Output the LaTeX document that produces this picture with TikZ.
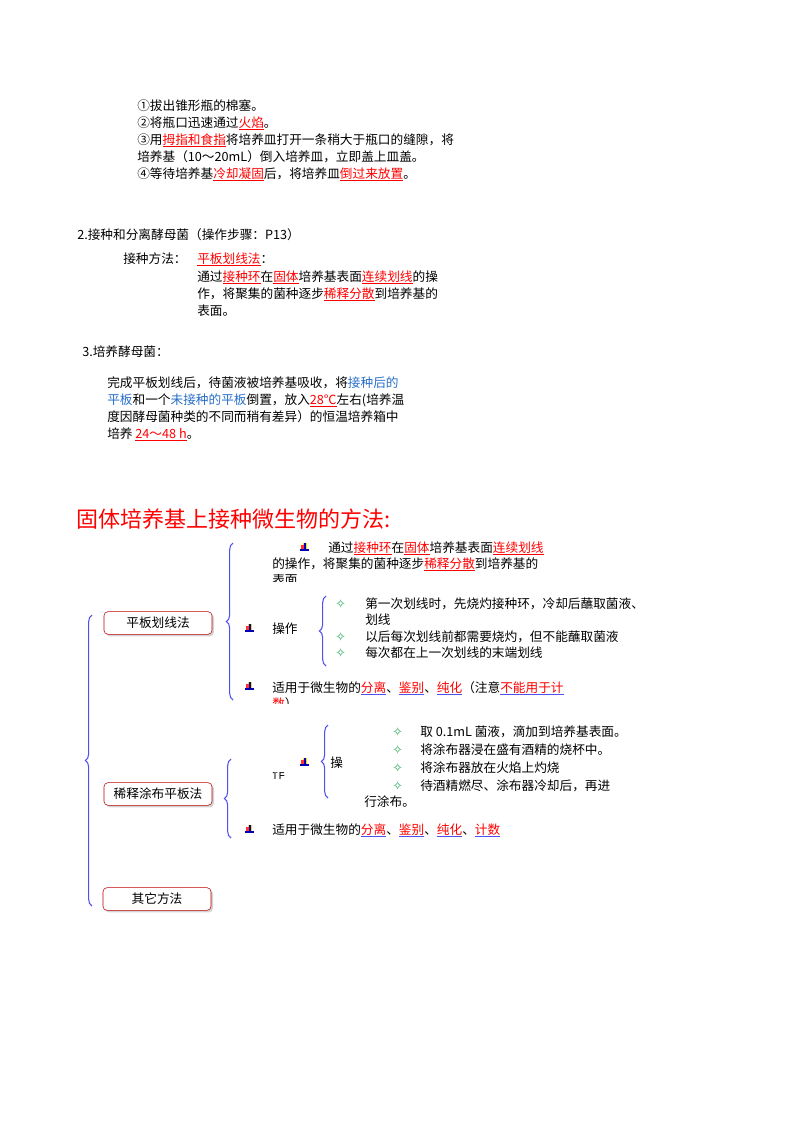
\documentclass[tikz,border=0pt]{standalone}
\usepackage{fontspec}
\setmainfont{Noto Sans CJK SC}
\newfontfamily\djvfont{DejaVu Sans}
\usetikzlibrary{decorations.pathreplacing,shadows}
\definecolor{bl}{RGB}{40,110,200}
\definecolor{br}{RGB}{80,80,240}
\definecolor{gr}{RGB}{40,170,90}
\newcommand\ulc[2]{\setbox0\hbox{\textcolor{red}{#2}}\rlap{\textcolor{#1}{\rule[-2pt]{\wd0}{0.5pt}}}\box0}
\newcommand\rl[1]{\ulc{red}{#1}}
\newcommand\rb[1]{\ulc{br}{#1}}
\newcommand\bt[1]{\textcolor{bl}{#1}}
\newcommand\dm{\textcolor{gr}{\djvfont ✧}}
\begin{document}
\begin{tikzpicture}[x=0.75pt,y=-0.75pt,
  t/.style={anchor=base west,inner sep=0,font=\fontsize{9.5}{11}\selectfont},
  box/.style={draw=red!75!black,fill=white,rounded corners=3pt,minimum width=81pt,minimum height=17pt,font=\fontsize{9.5}{11}\selectfont,drop shadow={opacity=0.35,shadow xshift=1.5pt,shadow yshift=-1.5pt}},
  brc/.style={draw=br,thick,decorate,decoration={brace,amplitude=5pt}},
  ic/.pic={\fill[yellow!80!orange](-2,-5)rectangle(2,1);\fill[red!80](-4,-3)rectangle(-1,1);\draw[blue!70!black,line width=1.2pt](-5,2)--(4,2);\draw[blue!70!black,line width=1.2pt](0,-5)--(0,3);}]
\useasboundingbox (0,0) rectangle (800,1132);
% part 1
\node[t] (a1) at (137,110) {①拔出锥形瓶的棉塞。};
\node[t] (a2) at (137,127) {②将瓶口迅速通过\rl{火焰}。};
\node[t] (a3) at (137,144) {③用\rl{拇指和食指}将培养皿打开一条稍大于瓶口的缝隙，将};
\node[t] (a4) at (137,161) {培养基（10～20mL）倒入培养皿，立即盖上皿盖。};
\node[t] (a5) at (137,178) {④等待培养基\rl{冷却凝固}后，将培养皿\rl{倒过来放置}。};
\node[t] (b1) at (77,239) {2.接种和分离酵母菌（操作步骤：P13）};
\node[t] (b2) at (123,263) {接种方法：};
\node[t] (b3) at (197,263) {\rl{平板划线法}：};
\node[t] (b4) at (197,281) {通过\rl{接种环}在\rl{固体}培养基表面\rl{连续划线}的操};
\node[t] (b5) at (197,298) {作，将聚集的菌种逐步\rl{稀释分散}到培养基的};
\node[t] (b6) at (197,315) {表面。};
\node[t] (c1) at (82,356) {3.培养酵母菌：};
\node[t] (c2) at (107,387) {完成平板划线后，待菌液被培养基吸收，将\bt{接种后的}};
\node[t] (c3) at (107,404) {\bt{平板}和一个\bt{未接种的平板}倒置，放入\rl{28℃}左右(培养温};
\node[t] (c4) at (107,421) {度因酵母菌种类的不同而稍有差异）的恒温培养箱中};
\node[t] (c5) at (107,438) {培养 \rl{24～48 h}。};
\node[anchor=base west,inner sep=0,text=red,font=\fontsize{16.5}{18}\selectfont] (title) at (76,527) {固体培养基上接种微生物的方法:};
% mind map
\node[box] (m1) at (158,623) {平板划线法};
\node[box] (m2) at (158,794) {稀释涂布平板法};
\node[box] (m3) at (157,899) {其它方法};
\draw[brc] (92,906) -- (92,615);
\draw[brc] (233,700) -- (233,543);
\draw[brc] (326,666) -- (326,596);
\draw[brc] (231,838) -- (231,759);
\draw[brc] (328,798) -- (328,725);
\pic at (305,548) {ic};
\pic at (250,629) {ic};
\pic at (250,687) {ic};
\pic at (305,763) {ic};
\pic at (250,830) {ic};
\node[t] (d1) at (328,552) {通过\rl{接种环}在\rl{固体}培养基表面\rl{连续划线}};
\node[t] (d2) at (272,568) {的操作，将聚集的菌种逐步\rl{稀释分散}到培养基的};
\begin{scope}\clip (260,574) rectangle (320,581);
\node[t] (d3) at (272,584) {表面};\end{scope}
\node[t] (d4) at (272,633) {操作};
\node[t] (e0) at (335,608) {\dm};
\node[t] (e1) at (365,608) {第一次划线时，先烧灼接种环，冷却后蘸取菌液、};
\node[t] (e2) at (365,624) {划线};
\node[t] (e3) at (335,641) {\dm};
\node[t] (e4) at (365,641) {以后每次划线前都需要烧灼，但不能蘸取菌液};
\node[t] (e5) at (335,657) {\dm};
\node[t] (e6) at (365,657) {每次都在上一次划线的末端划线};
\node[t] (f1) at (272,692) {适用于微生物的\rb{分离}、\rb{鉴别}、\rb{纯化}（注意\rb{不能用于计}};
\begin{scope}\clip (260,697) rectangle (300,703);
\node[t] (f2) at (272,708) {\textcolor{red}{数}）};\end{scope}
\begin{scope}\clip (260,772) rectangle (300,778);
\node[t] (g0) at (272,778) {作};\end{scope}
\node[t] (g1) at (330,767) {操};
\node[t] (h0) at (392,736) {\dm};
\node[t] (h1) at (420,736) {取 0.1mL 菌液，滴加到培养基表面。};
\node[t] (h2) at (392,754) {\dm};
\node[t] (h3) at (420,754) {将涂布器浸在盛有酒精的烧杯中。};
\node[t] (h4) at (392,772) {\dm};
\node[t] (h5) at (420,772) {将涂布器放在火焰上灼烧};
\node[t] (h6) at (392,790) {\dm};
\node[t] (h7) at (420,790) {待酒精燃尽、涂布器冷却后，再进};
\node[t] (h8) at (364,806) {行涂布。};
\node[t] (k1) at (272,834) {适用于微生物的\rb{分离}、\rb{鉴别}、\rb{纯化}、\rb{计数}};
\end{tikzpicture}
\end{document}
